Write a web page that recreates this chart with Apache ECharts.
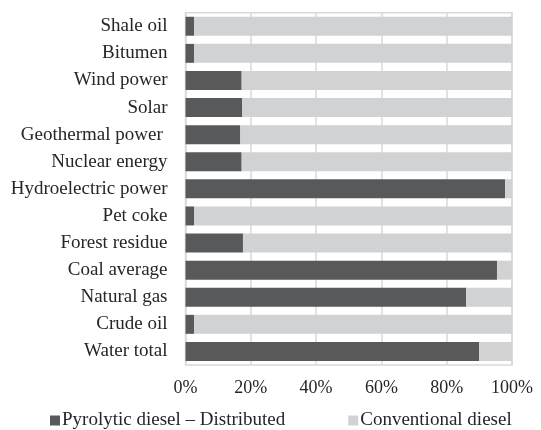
<!DOCTYPE html>
<html>
<head>
<meta charset="utf-8">
<script src="https://cdn.jsdelivr.net/npm/echarts@6/dist/echarts.min.js"></script>
<style>html,body{margin:0;padding:0;background:#fff}#c{width:541px;height:430px}</style>
</head>
<body>
<div id="c"></div>
<script>
const categories = ['Water total','Crude oil','Natural gas','Coal average','Forest residue','Pet coke','Hydroelectric power','Nuclear energy','Geothermal power ','Solar','Wind power','Bitumen','Shale oil'];
const pyrolytic = [89.9, 2.6, 86.0, 95.4, 17.6, 2.7, 97.9, 17.2, 16.8, 17.4, 17.2, 2.6, 2.6];
const conventional = pyrolytic.map(v => +(100 - v).toFixed(1));
const seriesNames = ['Pyrolytic diesel \u2013 Distributed', 'Conventional diesel'];
const xTicks = [0, 20, 40, 60, 80, 100];

const font = 'Liberation Serif, Times New Roman, serif';
const chart = echarts.init(document.getElementById('c'));
chart.setOption({
  animation: false,
  grid: { left: 185.5, right: 29, top: 12.7, bottom: 65, show: true, borderColor: '#d9d9d9', borderWidth: 1.5, containLabel: false },
  legend: {
    data: seriesNames,
    left: 45, top: 406, padding: 5,
    icon: 'rect', itemWidth: 10, itemHeight: 10, itemGap: 63,
    textStyle: { fontFamily: font, fontSize: 19, color: '#262626', padding: [0,0,0,-3] }
  },
  xAxis: {
    type: 'value', min: xTicks[0], max: xTicks[xTicks.length-1], interval: 20,
    axisLine: { show: false }, axisTick: { show: false },
    splitLine: { show: true, lineStyle: { color: '#d9d9d9', width: 1.5 } },
    axisLabel: { formatter: '{value}%', fontFamily: font, fontSize: 18, color: '#262626', margin: 14 }
  },
  yAxis: {
    type: 'category', data: categories,
    axisLine: { show: false }, axisTick: { show: false },
    axisLabel: { fontFamily: font, fontSize: 19, color: '#262626', margin: 18 }
  },
  series: [
    { name: seriesNames[0], type: 'bar', stack: 't', data: pyrolytic, barWidth: '70%',
      itemStyle: { color: '#58595b' } },
    { name: seriesNames[1], type: 'bar', stack: 't', data: conventional, barWidth: '70%',
      itemStyle: { color: '#d1d2d4' } }
  ]
});
</script>
</body>
</html>
